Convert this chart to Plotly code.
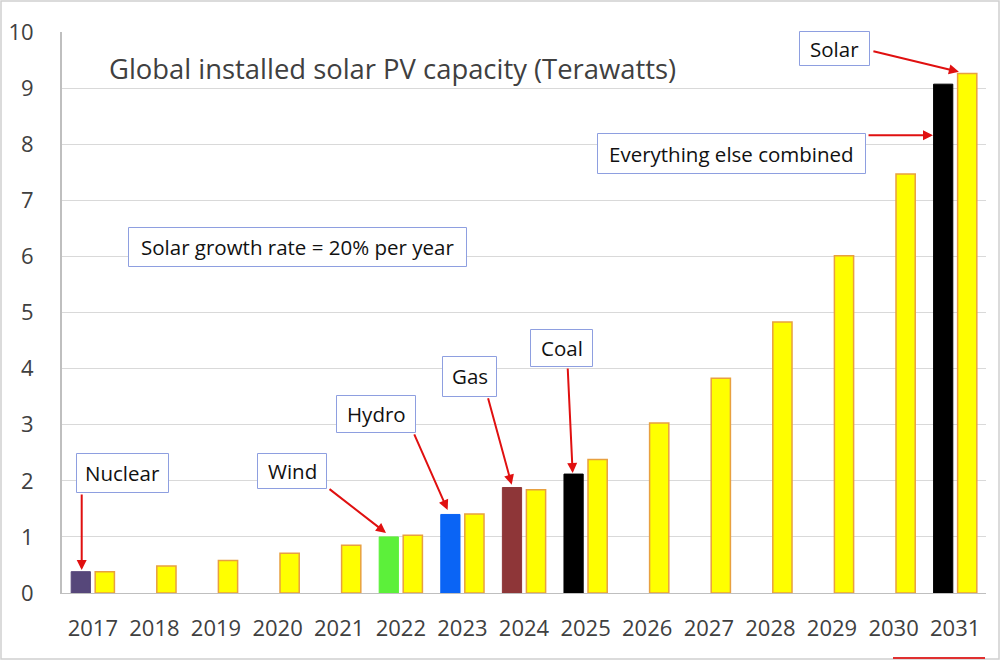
import plotly.graph_objects as go

years = [str(y) for y in range(2017, 2032)]
solar = [0.38, 0.48, 0.58, 0.71, 0.85, 1.03, 1.41, 1.84, 2.38, 3.03, 3.83, 4.83, 6.01, 7.47, 9.26]
other = [0.38, None, None, None, None, 1.00, 1.40, 1.88, 2.12, None, None, None, None, None, 9.07]
other_colors = ["#56477A", "#56477A", "#56477A", "#56477A", "#56477A", "#5CF03A", "#0A64F5",
                "#8E3638", "#000000", "#000000", "#000000", "#000000", "#000000", "#000000", "#000000"]

title_text = "Global installed solar PV capacity (Terawatts)"
FONT = "Open Sans"

fig = go.Figure()
fig.add_trace(go.Bar(x=years, y=other, marker=dict(color=other_colors,
                     line=dict(color=other_colors, width=1)), showlegend=False))
fig.add_trace(go.Bar(x=years, y=solar, marker=dict(color="#FFFF00",
                     line=dict(color="#E8A040", width=1.5)), showlegend=False))

W, H = 1000, 660
L, R, T, B = 62, 14, 32, 67
pw, ph = W - L - R, H - T - B

def px(x):
    return (x - L) / pw

def py(y):
    return (H - B - y) / ph

ann = []
ann.append(dict(text=title_text, xref="paper", yref="paper", x=px(107), y=py(68),
                xanchor="left", yanchor="middle", showarrow=False,
                font=dict(family=FONT, size=27.4, color="#404040")))

shapes = [
    dict(type="rect", xref="paper", yref="paper", x0=px(1), x1=px(999), y0=py(659), y1=py(1),
         line=dict(color="#D0D0D0", width=1.5), fillcolor="rgba(0,0,0,0)", layer="below"),
    dict(type="line", xref="paper", yref="paper", x0=px(893), x1=px(985), y0=py(658), y1=py(658),
         line=dict(color="#E03030", width=2)),
]

# label boxes: text, left, top, right, bottom (pixels)
boxes = [
    ("Nuclear", 76, 453, 169, 493),
    ("Wind", 257, 453, 327, 489),
    ("Hydro", 336, 395, 416, 433),
    ("Gas", 442, 356, 497, 397),
    ("Coal", 530, 329, 593, 367),
    ("Solar", 799, 31, 870, 66),
    ("Everything else combined", 597, 133, 866, 174),
    ("Solar growth rate = 20% per year", 128, 227, 467, 267),
]
for t, x0, y0, x1, y1 in boxes:
    shapes.append(dict(type="rect", xref="paper", yref="paper",
                       x0=px(x0 + 0.5), x1=px(x1 - 0.5), y0=py(y1 - 0.5), y1=py(y0 + 0.5),
                       line=dict(color="#8E9FE0", width=1), fillcolor="white", layer="above"))
    ann.append(dict(text=t, xref="paper", yref="paper", x=px((x0 + x1) / 2), y=py((y0 + y1) / 2),
                    xanchor="center", yanchor="middle", showarrow=False,
                    font=dict(family=FONT, size=20.5, color="#111111")))

# arrows: head (category index, value), tail offset in pixels
arrows = [
    (-0.18, 0.41, 0, -77),
    (4.76, 1.07, -58, -45),
    (5.76, 1.48, -34, -77),
    (6.80, 1.93, -24, -88),
    (7.79, 2.14, -5, -106),
    (14.06, 9.29, -87, -21),
    (13.64, 8.16, -66, 0),
]
for xi, yv, ax, ay in arrows:
    ann.append(dict(text="", x=xi, y=yv, xref="x", yref="y", ax=ax, ay=ay,
                    showarrow=True, arrowhead=2, arrowsize=1, arrowwidth=2,
                    arrowcolor="#E01010", standoff=0))

fig.update_layout(
    width=W, height=H,
    margin=dict(l=L, r=R, t=T, b=B, autoexpand=False),
    paper_bgcolor="white", plot_bgcolor="white",
    barmode="group", bargap=0.22, bargroupgap=0.2,
    font=dict(family=FONT, color="#404040"),
    annotations=ann, shapes=shapes,
    xaxis=dict(type="category", range=[-0.5, 14.5], showgrid=False, showline=True,
               linecolor="#BFBFBF", linewidth=1, ticks="", tickfont=dict(size=22, color="#404040"),
               ticklabelstandoff=16, automargin=False),
    yaxis=dict(range=[0, 10], dtick=1, showgrid=True, gridcolor="#D9D9D9", gridwidth=1,
               showline=True, linecolor="#BFBFBF", linewidth=2, zeroline=False, ticks="",
               tickfont=dict(size=22, color="#404040"), ticklabelstandoff=22, automargin=False),
)

fig.write_html("out.html")
